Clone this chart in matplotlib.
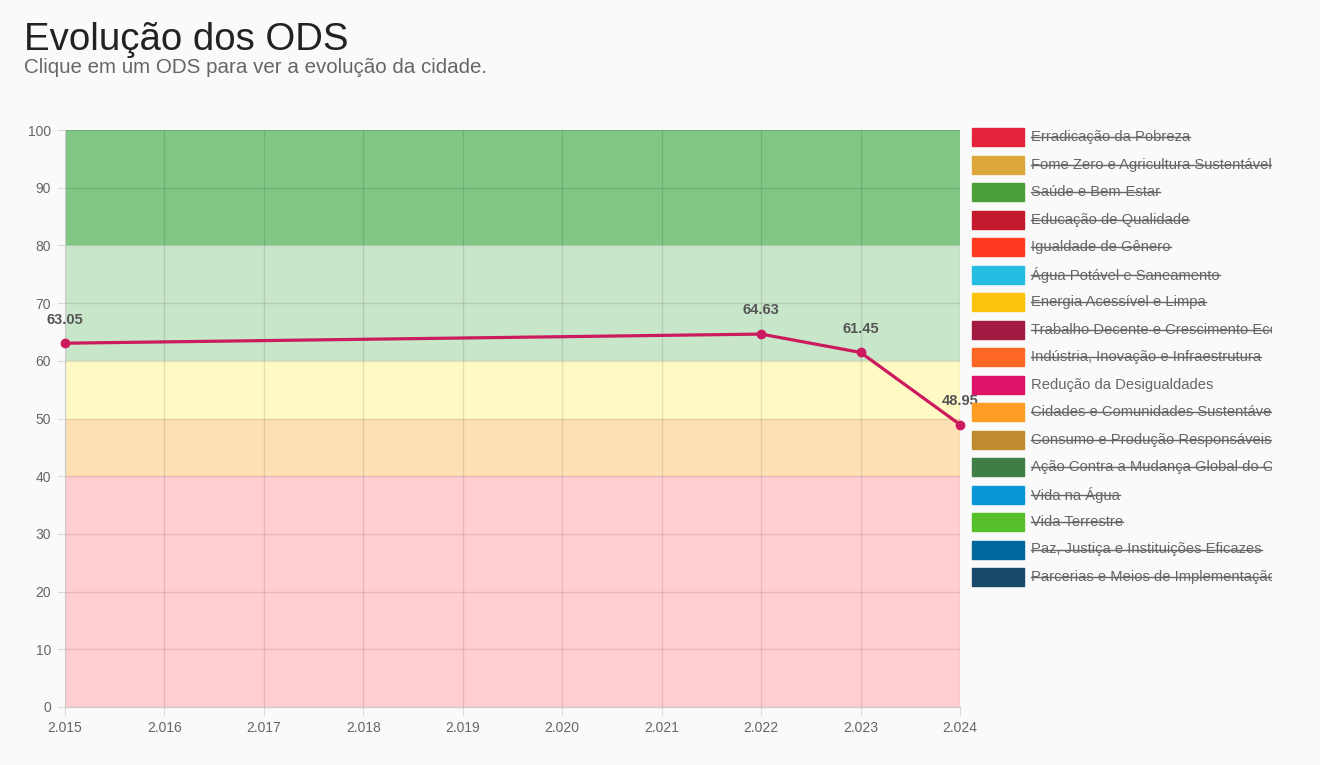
import numpy as np
import matplotlib.pyplot as plt
from matplotlib.patches import Rectangle

plt.rcParams['font.family'] = ['Liberation Sans', 'DejaVu Sans']

# data
anos = [2015, 2016, 2017, 2018, 2019, 2020, 2021, 2022, 2023, 2024]
anos_ponto = [2015, 2022, 2023, 2024]
valores = [63.05, 64.63, 61.45, 48.95]
faixas = [(0, 40, '#ffcdd2'), (40, 50, '#ffe0b2'), (50, 60, '#fff9c4'),
          (60, 80, '#c8e6c9'), (80, 100, '#81c784')]
ods_nomes = ["Erradicação da Pobreza", "Fome Zero e Agricultura Sustentável",
             "Saúde e Bem-Estar", "Educação de Qualidade", "Igualdade de Gênero",
             "Água Potável e Saneamento", "Energia Acessível e Limpa",
             "Trabalho Decente e Crescimento Econômico",
             "Indústria, Inovação e Infraestrutura", "Redução da Desigualdades",
             "Cidades e Comunidades Sustentáveis", "Consumo e Produção Responsáveis",
             "Ação Contra a Mudança Global do Clima", "Vida na Água", "Vida Terrestre",
             "Paz, Justiça e Instituições Eficazes", "Parcerias e Meios de Implementação"]
ods_cores = ['#E5243B', '#DDA63A', '#4C9F38', '#C5192D', '#FF3A21', '#26BDE2',
             '#FCC30B', '#A21942', '#FD6925', '#DD1367', '#FD9D24', '#BF8B2E',
             '#3F7E44', '#0A97D9', '#56C02B', '#00689D', '#19486A']
ods_ativo = [False] * 17
ods_ativo[9] = True

W, H = 1320, 765
fig = plt.figure(figsize=(W / 100, H / 100), dpi=100, facecolor='#fafafa')

fig.text(24 / W, 1 - 50 / H, "Evolução dos ODS", fontsize=27.6, color='#222222')
fig.text(24 / W, 1 - 73 / H, "Clique em um ODS para ver a evolução da cidade.",
         fontsize=14.8, color='#666666')

ax = fig.add_axes([65 / W, 1 - 707 / H, (960 - 65) / W, (707 - 130) / H])
ax.set_facecolor('#fafafa')
for lo, hi, c in faixas:
    ax.axhspan(lo, hi, color=c, zorder=0, lw=0)

ax.plot(anos_ponto, valores, color='#cc1a5e', lw=2.3, marker='o', ms=6, zorder=3,
        clip_on=False)
for x, y in zip(anos_ponto, valores):
    ax.annotate(f"{y:.2f}", (x, y), xytext=(0, 12), textcoords='offset points',
                ha='center', va='bottom', fontsize=10.5, fontweight='bold',
                color='#555555', zorder=4)

ax.set_xlim(2015, 2024)
ax.set_ylim(0, 100)
ax.set_xticks(anos)
ax.set_xticklabels([f"{a // 1000}.{a % 1000:03d}" for a in anos])
ax.set_yticks(range(0, 101, 10))
ax.grid(True, color='black', alpha=0.1, lw=1)
ax.tick_params(colors='#00000020', labelcolor='#666666', labelsize=10, length=6,
               pad=4)
for s in ax.spines.values():
    s.set_visible(False)
ax.spines['left'].set_visible(True)
ax.spines['left'].set_color('#cccccc')
ax.spines['bottom'].set_visible(True)
ax.spines['bottom'].set_color('#cccccc')

# legenda (cortada na borda direita, como no original)
lx0, lx1 = 965, 1272
lax = fig.add_axes([lx0 / W, 0, (lx1 - lx0) / W, 1])
lax.set_xlim(lx0, lx1)
lax.set_ylim(H, 0)
lax.axis('off')
textos = []
for i, (nome, cor, ativo) in enumerate(zip(ods_nomes, ods_cores, ods_ativo)):
    yc = 137 + i * 27.5
    lax.add_patch(Rectangle((972, yc - 9), 52, 18, color=cor, clip_on=True))
    t = lax.text(1031, yc, nome, fontsize=10.6, color='#666666', va='center',
                 ha='left', clip_on=True)
    textos.append((t, ativo, yc))

fig.canvas.draw()
r = fig.canvas.get_renderer()
inv = lax.transData.inverted()
for t, ativo, yc in textos:
    if ativo:
        continue
    bb = t.get_window_extent(r)
    xa = inv.transform((bb.x0, 0))[0]
    xb = inv.transform((bb.x1, 0))[0]
    lax.plot([xa, xb], [yc, yc], color='#666666', lw=1, clip_on=True)

fig.savefig('out.png', dpi=100, facecolor=fig.get_facecolor())
